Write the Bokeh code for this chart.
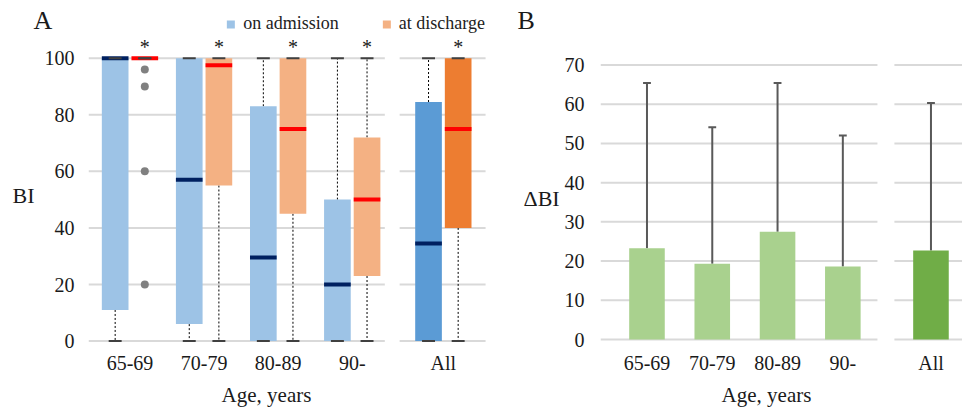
from bokeh.plotting import figure
from bokeh.models import ColumnDataSource, FixedTicker, Label, Legend, LegendItem, Range1d
from bokeh.layouts import row
from bokeh.embed import file_html
from bokeh.resources import INLINE
from bokeh.core.properties import value

# ---------------- data ----------------
age_groups = ["65-69", "70-79", "80-89", "90-", "All"]
bi_ticks = [0, 20, 40, 60, 80, 100]

# Panel A: Barthel Index box statistics
adm_min = [0, 0, 0, 0, 0]
adm_q1 = [11, 6, 0, 0, 0]
adm_med = [100, 57, 29.5, 20, 34.5]
adm_q3 = [100, 100, 83, 50, 84.5]
adm_max = [100, 100, 100, 100, 100]

dis_min = [100, 0, 0, 0, 0]
dis_q1 = [100, 55, 45, 23, 40]
dis_med = [100, 97.5, 75, 50, 75]
dis_q3 = [100, 100, 100, 72, 100]
dis_max = [100, 100, 100, 100, 100]

outlier_groups = ["65-69", "65-69", "65-69", "65-69"]
outlier_values = [96, 90, 60, 20]
significance = ["*", "*", "*", "*", "*"]

# Panel B: change in BI (mean, SD)
delta_ticks = [0, 10, 20, 30, 40, 50, 60, 70]
delta_mean = [23.3, 19.3, 27.5, 18.6, 22.7]
delta_sd = [42.1, 34.8, 37.9, 33.4, 37.6]

# ---------------- styling / layout constants ----------------
FONT = "'Liberation Serif', 'Times New Roman', serif"
TXT = "#1a1a1a"
GRID = "#D9D9D9"
ADM_LIGHT, ADM_DARK = "#9DC3E6", "#5B9BD5"
DIS_LIGHT, DIS_DARK = "#F4B183", "#ED7D31"
GREEN_LIGHT, GREEN_DARK = "#A9D18E", "#70AD47"
H = 408

A_GAP = 0.23
B_GAP = 0.35
xa = [i + (A_GAP if g == "All" else 0) for i, g in enumerate(age_groups)]
xb = [i + (B_GAP if g == "All" else 0) for i, g in enumerate(age_groups)]


def style(p, xticks, yticks):
    p.xaxis.ticker = FixedTicker(ticks=xticks)
    p.xaxis.major_label_overrides = {t: g for t, g in zip(xticks, age_groups)}
    p.yaxis.ticker = FixedTicker(ticks=yticks)
    for ax in (p.xaxis[0], p.yaxis[0]):
        ax.axis_line_color = None
        ax.major_tick_line_color = None
        ax.minor_tick_line_color = None
        ax.major_label_text_font = FONT
        ax.major_label_text_font_size = "20px"
        ax.major_label_text_color = TXT
    p.xaxis.major_label_standoff = 3
    p.yaxis.major_label_standoff = 8
    p.xgrid.visible = False
    p.ygrid.visible = False
    p.outline_line_color = None


def gridlines(p, ticks, sections):
    x0, x1, y = [], [], []
    for t in ticks:
        for s0, s1 in sections:
            x0.append(s0); x1.append(s1); y.append(t)
    p.segment(x0=x0, y0=y, x1=x1, y1=y, line_color=GRID, line_width=2)


def add_label(p, text, x, y, size, side, align="left"):
    p.add_layout(Label(x=x, y=y, x_units="canvas", y_units="canvas", text=text,
                       text_font=FONT, text_font_size=size, text_color=TXT,
                       text_align=align, text_baseline="alphabetic"), side)


# ================= Panel A =================
pA = figure(width=508, height=H, x_range=Range1d(-0.56, 4.853), y_range=Range1d(-0.5, 117.2),
            output_backend="svg", toolbar_location=None,
            min_border_left=83, min_border_right=19, min_border_top=9, min_border_bottom=H - 342)
style(pA, xa, bi_ticks)
gridlines(pA, bi_ticks, [(-0.56, 3.44), (3.64, 4.8)])

OFF, BW, CAPW = 0.2, 0.36, 0.175
series = [
    ("adm", -OFF, adm_min, adm_q1, adm_med, adm_q3, adm_max, ADM_LIGHT, ADM_DARK, "#002060"),
    ("dis", +OFF, dis_min, dis_q1, dis_med, dis_q3, dis_max, DIS_LIGHT, DIS_DARK, "#FF0000"),
]
box_renderers = {}
for name, off, mn, q1, md, q3, mx, light, dark, medc in series:
    xs = [x + off for x in xa]
    wx, wy0, wy1 = [], [], []
    for x, a, b, c, d in zip(xs, mn, q1, q3, mx):
        if d > c:
            wx.append(x); wy0.append(c); wy1.append(d)
        if a < b:
            wx.append(x); wy0.append(b); wy1.append(a)
    pA.segment(x0=wx, y0=wy0, x1=wx, y1=wy1, line_color="#000000", line_width=1, line_dash="2 2")
    src = ColumnDataSource(dict(x=xs, q1=q1, q3=q3, med=md, mn=mn, mx=mx,
                                color=[dark if g == "All" else light for g in age_groups]))
    box_renderers[name] = pA.vbar(x="x", bottom="q1", top="q3", width=BW, fill_color="color",
                                  line_color=None, source=src)
    pA.rect(x="x", y="med", width=BW, height=4, height_units="screen", fill_color=medc,
            line_color=None, source=src)
    cx0 = [x - CAPW / 2 for x in xs] * 2
    cx1 = [x + CAPW / 2 for x in xs] * 2
    pA.segment(x0=cx0, x1=cx1, y0=list(mn) + list(mx), y1=list(mn) + list(mx),
               line_color="#404040", line_width=2)

ox = [xa[age_groups.index(g)] + OFF for g in outlier_groups]
pA.scatter(x=ox, y=outlier_values, size=8, fill_color="#808080", line_color=None)

pA.text(x=[x + OFF for x in xa], y=[m + 4 for m in dis_max], text=significance,
        text_font=value(FONT), text_font_size="20px", text_align="center",
        text_baseline="alphabetic", text_color=TXT)

legend = Legend(items=[LegendItem(label="on admission", renderers=[box_renderers["adm"]], index=0),
                       LegendItem(label="at discharge", renderers=[box_renderers["dis"]], index=0)],
                location="top_right", orientation="horizontal")
legend.glyph_width = 10
legend.glyph_height = 10
legend.label_text_font = FONT
legend.label_text_font_size = "18px"
legend.label_text_color = "#222222"
legend.label_standoff = 8
legend.spacing = 42
legend.padding = 0
legend.margin = 4
legend.border_line_color = None
legend.background_fill_alpha = 0
pA.add_layout(legend)

add_label(pA, "A", 33, 20, "26px", "left")
add_label(pA, "BI", 12, 195, "22px", "left")
add_label(pA, "Age, years", 266, 394, "21px", "below", align="center")

# ================= Panel B =================
pB = figure(width=454, height=H, x_range=Range1d(-0.712, 4.833), y_range=Range1d(-0.76, 84.15),
            output_backend="svg", toolbar_location=None,
            min_border_left=88, min_border_right=0, min_border_top=6, min_border_bottom=H - 342)
style(pB, xb, delta_ticks)
pB.yaxis.major_label_standoff = 10
gridlines(pB, delta_ticks, [(-0.712, 3.53), (3.79, 4.833)])

top = [m + s for m, s in zip(delta_mean, delta_sd)]
srcB = ColumnDataSource(dict(x=xb, mean=delta_mean, top=top,
                             color=[GREEN_DARK if g == "All" else GREEN_LIGHT for g in age_groups]))
pB.segment(x0="x", y0="mean", x1="x", y1="top", line_color="#595959", line_width=2, source=srcB)
pB.segment(x0=[x - 0.06 for x in xb], x1=[x + 0.06 for x in xb], y0=top, y1=top,
           line_color="#595959", line_width=2)
pB.vbar(x="x", bottom=0, top="mean", width=0.545, fill_color="color", line_color=None, source=srcB)

add_label(pB, "B", 9, 20, "26px", "left")
add_label(pB, "ΔBI", 15, 198, "22px", "left")
add_label(pB, "Age, years", 258, 394, "21px", "below", align="center")

layout = row(pA, pB)
open("out.html", "w").write(file_html(layout, INLINE))
